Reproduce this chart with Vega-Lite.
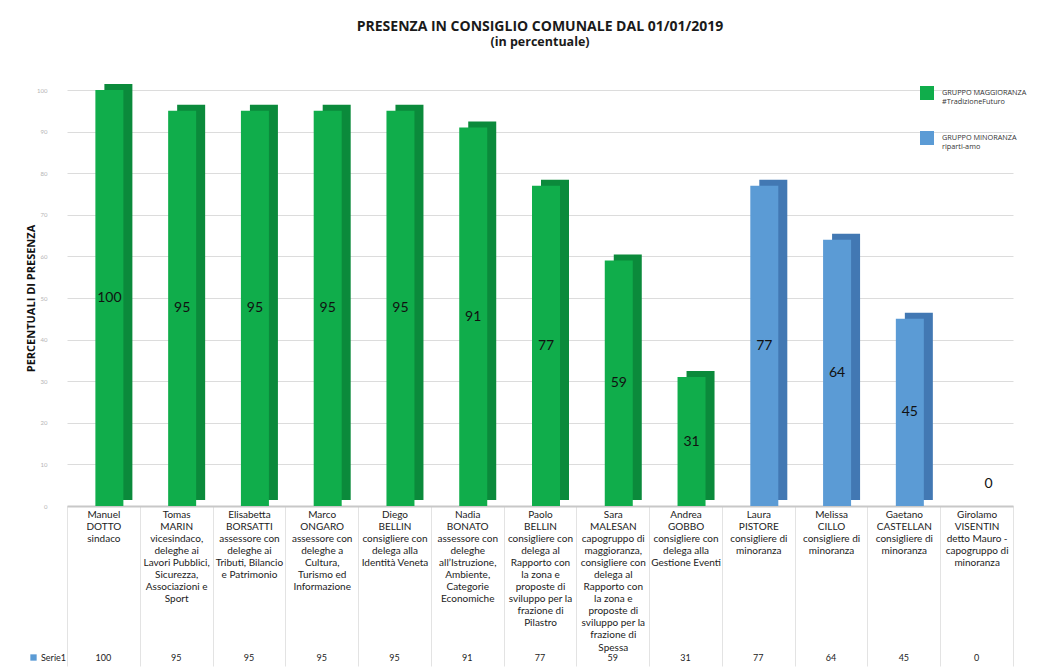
{
  "$schema": "https://vega.github.io/schema/vega-lite/v6.json",
  "width": 946,
  "height": 416,
  "autosize": {"type": "none"},
  "padding": {"left": 67, "top": 90, "right": 25, "bottom": 162},
  "background": "white",
  "title": {
    "text": "PRESENZA IN CONSIGLIO COMUNALE DAL 01/01/2019",
    "subtitle": "(in percentuale)",
    "font": "Open Sans",
    "fontSize": 14,
    "fontWeight": "bold",
    "color": "#1a1a1a",
    "subtitleFont": "Open Sans",
    "subtitleFontSize": 12.5,
    "subtitleFontWeight": "bold",
    "subtitleColor": "#1a1a1a",
    "subtitlePadding": 2,
    "anchor": "middle",
    "offset": 36
  },
  "data": {
    "values": [
      {"persona": "Manuel|DOTTO|sindaco", "valore": 100, "gruppo": "GRUPPO MAGGIORANZA|#TradizioneFuturo", "serie": "Serie1"},
      {"persona": "Tomas|MARIN|vicesindaco,|deleghe ai|Lavori Pubblici,|Sicurezza,|Associazioni e|Sport", "valore": 95, "gruppo": "GRUPPO MAGGIORANZA|#TradizioneFuturo", "serie": "Serie1"},
      {"persona": "Elisabetta|BORSATTI|assessore con|deleghe ai|Tributi, Bilancio|e Patrimonio", "valore": 95, "gruppo": "GRUPPO MAGGIORANZA|#TradizioneFuturo", "serie": "Serie1"},
      {"persona": "Marco|ONGARO|assessore con|deleghe a|Cultura,|Turismo ed|Informazione", "valore": 95, "gruppo": "GRUPPO MAGGIORANZA|#TradizioneFuturo", "serie": "Serie1"},
      {"persona": "Diego|BELLIN|consigliere con|delega alla|Identità Veneta", "valore": 95, "gruppo": "GRUPPO MAGGIORANZA|#TradizioneFuturo", "serie": "Serie1"},
      {"persona": "Nadia|BONATO|assessore con|deleghe|all’Istruzione,|Ambiente,|Categorie|Economiche", "valore": 91, "gruppo": "GRUPPO MAGGIORANZA|#TradizioneFuturo", "serie": "Serie1"},
      {"persona": "Paolo|BELLIN|consigliere con|delega al|Rapporto con|la zona e|proposte di|sviluppo per la|frazione di|Pilastro", "valore": 77, "gruppo": "GRUPPO MAGGIORANZA|#TradizioneFuturo", "serie": "Serie1"},
      {"persona": "Sara|MALESAN|capogruppo di|maggioranza,|consigliere con|delega al|Rapporto con|la zona e|proposte di|sviluppo per la|frazione di|Spessa", "valore": 59, "gruppo": "GRUPPO MAGGIORANZA|#TradizioneFuturo", "serie": "Serie1"},
      {"persona": "Andrea|GOBBO|consigliere con|delega alla|Gestione Eventi", "valore": 31, "gruppo": "GRUPPO MAGGIORANZA|#TradizioneFuturo", "serie": "Serie1"},
      {"persona": "Laura|PISTORE|consigliere di|minoranza", "valore": 77, "gruppo": "GRUPPO MINORANZA|riparti-amo", "serie": "Serie1"},
      {"persona": "Melissa|CILLO|consigliere di|minoranza", "valore": 64, "gruppo": "GRUPPO MINORANZA|riparti-amo", "serie": "Serie1"},
      {"persona": "Gaetano|CASTELLAN|consigliere di|minoranza", "valore": 45, "gruppo": "GRUPPO MINORANZA|riparti-amo", "serie": "Serie1"},
      {"persona": "Girolamo|VISENTIN|detto Mauro -|capogruppo di|minoranza", "valore": 0, "gruppo": "GRUPPO MINORANZA|riparti-amo", "serie": "Serie1"}
    ]
  },
  "encoding": {
    "x": {
      "field": "persona",
      "type": "nominal",
      "sort": null,
      "scale": {"paddingInner": 0, "paddingOuter": 0},
      "axis": {
        "title": null,
        "labelAngle": 0,
        "labelExpr": "isValid(datum.value) ? split(datum.value, '|') : ''",
        "labelFont": "Lato",
        "labelFontSize": 10,
        "labelColor": "#222",
        "labelLineHeight": 12.1,
        "labelBaseline": "top",
        "labelPadding": -157,
        "labelLimit": 200,
        "tickBand": "extent",
        "tickSize": 160,
        "tickColor": "#e3e3e3",
        "domainColor": "#c8c8c8",
        "domainWidth": 2
      }
    }
  },
  "layer": [
    {
      "mark": {"type": "bar", "width": 28, "xOffset": 15, "yOffset": -6},
      "encoding": {
        "y": {"field": "valore", "type": "quantitative", "scale": {"domain": [0, 100]},
          "axis": {
            "values": [0, 10, 20, 30, 40, 50, 60, 70, 80, 90, 100],
            "title": "PERCENTUALI DI PRESENZA",
            "titleFont": "Open Sans",
            "titleFontSize": 11,
            "titleFontWeight": "bold",
            "titleColor": "#111",
            "titlePadding": 0,
            "labelFont": "Lato",
            "labelFontSize": 6,
            "labelColor": "#b5b5b5",
            "labelPadding": 20,
            "ticks": false,
            "domain": false,
            "gridColor": "#dcdcdc",
            "gridWidth": 1
          }
        },
        "color": {
          "condition": {"test": "datum.gruppo == 'GRUPPO MAGGIORANZA|#TradizioneFuturo'", "value": "#0b8a3b"},
          "value": "#4278b3"
        }
      }
    },
    {
      "mark": {"type": "bar", "width": 28, "xOffset": 6},
      "encoding": {
        "y": {"field": "valore", "type": "quantitative", "scale": {"domain": [0, 100]}, "axis": null},
        "color": {
          "field": "gruppo",
          "type": "nominal",
          "scale": {"domain": ["GRUPPO MAGGIORANZA|#TradizioneFuturo", "GRUPPO MINORANZA|riparti-amo"], "range": ["#10ad4b", "#5b9bd5"]},
          "legend": {
            "title": null,
            "orient": "none",
            "legendX": 853,
            "legendY": -4,
            "symbolType": "square",
            "symbolSize": 196,
            "symbolStrokeWidth": 0,
            "symbolOpacity": 1,
            "labelExpr": "split(datum.label, '|')",
            "labelFont": "Open Sans",
            "labelFontSize": 7.3,
            "labelColor": "#333",
            "labelLimit": 200,
            "labelOffset": 8,
            "rowPadding": 25
          }
        }
      }
    },
    {
      "transform": [{"filter": "datum.valore > 0"}],
      "mark": {"type": "text", "xOffset": 6, "font": "Lato", "fontSize": 14, "color": "#111", "baseline": "middle"},
      "encoding": {
        "y": {"field": "valore", "type": "quantitative", "scale": {"domain": [0, 200]}, "axis": null},
        "text": {"field": "valore", "type": "quantitative"}
      }
    },
    {
      "transform": [{"filter": "datum.valore == 0"}],
      "mark": {"type": "text", "xOffset": 12, "dy": -22, "font": "Lato", "fontSize": 14, "color": "#111", "baseline": "middle"},
      "encoding": {
        "y": {"field": "valore", "type": "quantitative", "scale": {"domain": [0, 100]}, "axis": null},
        "text": {"field": "valore", "type": "quantitative"}
      }
    },
    {
      "mark": {"type": "square", "opacity": 0, "size": 4},
      "encoding": {
        "y": {"datum": -36.5, "type": "quantitative", "scale": {"domain": [0, 100]}, "axis": null},
        "fill": {
          "field": "serie",
          "type": "nominal",
          "scale": {"domain": ["Serie1"], "range": ["#5b9bd5"]},
          "legend": {
            "title": null,
            "orient": "none",
            "legendX": -38,
            "legendY": 563,
            "symbolType": "square",
            "symbolSize": 40,
            "symbolOpacity": 1,
            "symbolStrokeWidth": 0,
            "labelFont": "Lato",
            "labelFontSize": 9,
            "labelColor": "#222",
            "labelOffset": 3
          }
        }
      }
    },
    {
      "mark": {"type": "text", "font": "Lato", "fontSize": 9, "color": "#222", "baseline": "middle"},
      "encoding": {
        "y": {"datum": -36.5, "type": "quantitative", "scale": {"domain": [0, 100]}, "axis": null},
        "text": {"field": "valore", "type": "quantitative"}
      }
    }
  ],
  "resolve": {"scale": {"y": "independent"}},
  "config": {
    "view": {"stroke": null}
  }
}
